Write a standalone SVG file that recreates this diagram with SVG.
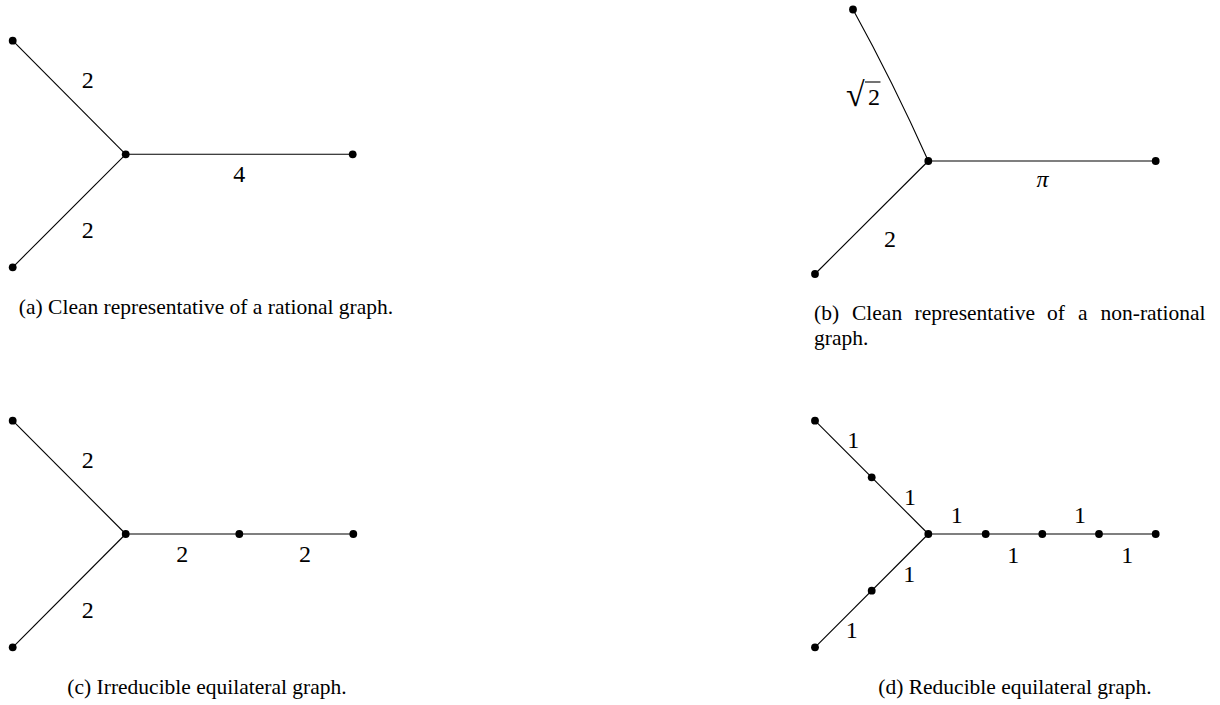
<svg xmlns="http://www.w3.org/2000/svg" width="1220" height="705" viewBox="0 0 1220 705">
<style>
.e{stroke:#000;stroke-width:1.1;fill:none}
.n{fill:#000}
.l{font-family:"Liberation Serif","DejaVu Serif",serif;font-size:24px;fill:#000;text-anchor:middle}
.c{font-family:"Liberation Serif","DejaVu Serif",serif;font-size:21.5px;fill:#000}
.m{text-anchor:middle}
</style>
<rect width="1220" height="705" fill="#fff"/>
<g id="connectors">
<line class="e" x1="12.7" y1="40.7" x2="125.7" y2="154.3"/>
<line class="e" x1="12.7" y1="267.3" x2="125.7" y2="154.3"/>
<line class="e" x1="125.7" y1="154.3" x2="352.7" y2="154.3"/>
<path class="e" d="M853,9.5 Q893,82 928.3,161"/>
<line class="e" x1="815" y1="274" x2="928.3" y2="161"/>
<line class="e" x1="928.3" y1="161" x2="1155.7" y2="161"/>
<line class="e" x1="12.7" y1="420.7" x2="125.7" y2="534"/>
<line class="e" x1="12.7" y1="647.3" x2="125.7" y2="534"/>
<line class="e" x1="125.7" y1="534" x2="353.3" y2="534"/>
<line class="e" x1="815" y1="420.7" x2="928.3" y2="534"/>
<line class="e" x1="815" y1="647.3" x2="928.3" y2="534"/>
<line class="e" x1="928.3" y1="534" x2="1155.7" y2="534"/>
</g>
<g id="graph-a">
<circle class="n" cx="12.7" cy="40.7" r="3.9"/>
<circle class="n" cx="125.7" cy="154.3" r="3.9"/>
<circle class="n" cx="352.7" cy="154.3" r="3.9"/>
<circle class="n" cx="12.7" cy="267.3" r="3.9"/>
<text class="l" x="87.7" y="88.3">2</text>
<text class="l" x="239.3" y="182.3">4</text>
<text class="l" x="87.7" y="238.3">2</text>
<text class="c m" x="206" y="314">(a) Clean representative of a rational graph.</text>
</g>
<g id="graph-b">
<circle class="n" cx="853" cy="9.5" r="3.9"/>
<circle class="n" cx="928.3" cy="161" r="3.9"/>
<circle class="n" cx="1155.7" cy="161" r="3.9"/>
<circle class="n" cx="815" cy="274" r="3.9"/>
<text x="846" y="106" font-family="Liberation Serif, DejaVu Serif, serif" font-size="34" fill="#000">√</text>
<line x1="865" y1="82" x2="880.5" y2="82" stroke="#000" stroke-width="1.1"/>
<text class="l" x="874" y="105">2</text>
<text class="l" x="1042.5" y="186.5" font-style="italic">π</text>
<text class="l" x="890" y="246.7">2</text>
<text class="c" y="320"><tspan x="814">(b)</tspan><tspan x="852">Clean</tspan><tspan x="914.5">representative</tspan><tspan x="1047">of</tspan><tspan x="1078">a</tspan><tspan x="1100.5">non-rational</tspan></text>
<text class="c" x="814" y="345">graph.</text>
</g>
<g id="graph-c">
<circle class="n" cx="12.7" cy="420.7" r="3.9"/>
<circle class="n" cx="125.7" cy="534" r="3.9"/>
<circle class="n" cx="239.3" cy="534" r="3.9"/>
<circle class="n" cx="353.3" cy="534" r="3.9"/>
<circle class="n" cx="12.7" cy="647.3" r="3.9"/>
<text class="l" x="87.7" y="468.3">2</text>
<text class="l" x="182.3" y="562.3">2</text>
<text class="l" x="305" y="562.3">2</text>
<text class="l" x="87.7" y="618.3">2</text>
<text class="c m" x="207" y="694">(c) Irreducible equilateral graph.</text>
</g>
<g id="graph-d">
<circle class="n" cx="815" cy="420.7" r="3.9"/>
<circle class="n" cx="871.7" cy="477.3" r="3.9"/>
<circle class="n" cx="928.3" cy="534" r="3.9"/>
<circle class="n" cx="985.7" cy="534" r="3.9"/>
<circle class="n" cx="1042.3" cy="534" r="3.9"/>
<circle class="n" cx="1099" cy="534" r="3.9"/>
<circle class="n" cx="1155.7" cy="534" r="3.9"/>
<circle class="n" cx="871.7" cy="590.7" r="3.9"/>
<circle class="n" cx="815" cy="647.3" r="3.9"/>
<text class="l" x="853.3" y="448.3">1</text>
<text class="l" x="910" y="505">1</text>
<text class="l" x="956.7" y="523.3">1</text>
<text class="l" x="1013.3" y="563.3">1</text>
<text class="l" x="1080" y="523.3">1</text>
<text class="l" x="1127.3" y="563.3">1</text>
<text class="l" x="909.3" y="581.7">1</text>
<text class="l" x="851.7" y="638.3">1</text>
<text class="c m" x="1015" y="694">(d) Reducible equilateral graph.</text>
</g>
</svg>
